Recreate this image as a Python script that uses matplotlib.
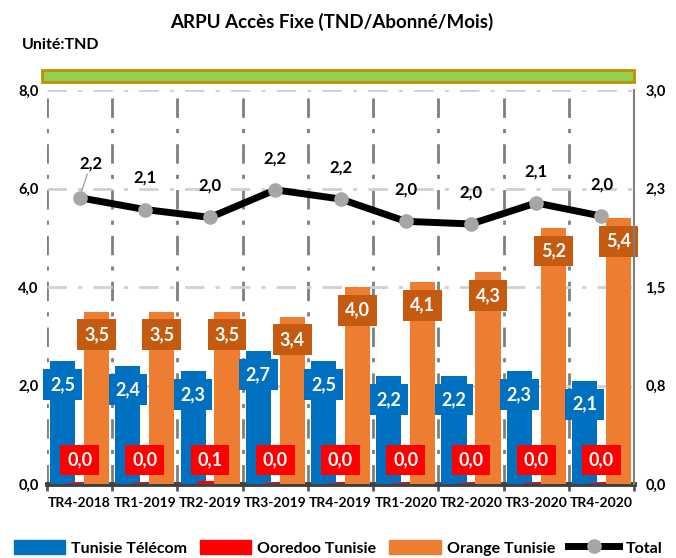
import numpy as np
import matplotlib.pyplot as plt
from matplotlib.patches import Rectangle
from matplotlib.lines import Line2D

plt.rcParams['font.family'] = ['Lato', 'DejaVu Sans']
plt.rcParams['font.weight'] = 'bold'

# donnees
trimestres = ['TR4-2018', 'TR1-2019', 'TR2-2019', 'TR3-2019', 'TR4-2019',
              'TR1-2020', 'TR2-2020', 'TR3-2020', 'TR4-2020']
tt = [2.5, 2.4, 2.3, 2.7, 2.5, 2.2, 2.2, 2.3, 2.1]
ooredoo = [0.02, 0.02, 0.06, 0.02, 0.02, 0.02, 0.02, 0.02, 0.02]
orange = [3.5, 3.5, 3.5, 3.4, 4.0, 4.1, 4.3, 5.2, 5.4]
total = [2.18, 2.09, 2.03, 2.24, 2.17, 2.0, 1.98, 2.14, 2.04]

bleu = '#0070C0'
rouge = '#FF0000'
oran = '#ED7D31'
oran_fonce = '#C55A11'
dash = (0, (7, 4, 1.5, 4))

def fmt(v):
    return ('%.1f' % v).replace('.', ',')

fig = plt.figure(figsize=(6.76, 5.58), dpi=100)
ax = fig.add_axes([0.0695, 0.1326, 0.8685, 0.7061])
ax2 = ax.twinx()

x = np.arange(len(trimestres))
w = 0.385
ax.bar(x - 0.26, tt, w, color=bleu, zorder=3)
ax.bar(x, ooredoo, w, color=rouge, zorder=3)
ax.bar(x + 0.26, orange, w, color=oran, zorder=3)

box = dict(boxstyle='square,pad=0.38', lw=0)
for i in range(len(x)):
    ax.text(x[i] - 0.26, tt[i] - 0.48, fmt(tt[i]), ha='center', va='center',
            color='white', fontsize=13, fontweight='bold', zorder=5, bbox=dict(box, fc=bleu))
    ax.text(x[i], 0.49, fmt(ooredoo[i]), ha='center', va='center',
            color='white', fontsize=13, fontweight='bold', zorder=5, bbox=dict(box, fc=rouge))
    ax.text(x[i] + 0.26, orange[i] - 0.47, fmt(orange[i]), ha='center', va='center',
            color='white', fontsize=13, fontweight='bold', zorder=5, bbox=dict(box, fc=oran_fonce))

ax.set_xlim(-0.5, len(x) - 0.5)
ax.set_ylim(0, 8)
ax.set_yticks([0, 2, 4, 6, 8])
ax.set_yticklabels([fmt(v) for v in [0, 2, 4, 6, 8]], fontweight='bold')
ax.set_xticks(x)
ax.set_xticklabels(trimestres, fontweight='bold')
ax.set_xticks(np.arange(-0.5, len(x), 1), minor=True)
ax.tick_params(axis='x', which='major', length=0, labelsize=10, pad=9)
ax.tick_params(axis='x', which='minor', length=5, width=2, color='#595959', direction='out')
ax.tick_params(axis='y', length=0, labelsize=10.5, pad=6)

# grille
ax.yaxis.grid(True, color='#D0D0D0', linestyle=dash, lw=2, zorder=0)
for b in np.arange(-0.5, len(x) - 0.4, 1):
    ax.axvline(b, color='#7F7F7F', linestyle=dash, lw=2, zorder=1)
for s in ['top', 'left', 'right']:
    ax.spines[s].set_visible(False)
ax2.spines['top'].set_visible(False)
ax2.spines['left'].set_visible(False)
ax2.spines['bottom'].set_visible(False)
ax2.spines['right'].set_color('#7F7F7F')
ax2.spines['right'].set_linewidth(1.5)
ax.spines['bottom'].set_color('#404040')
ax.spines['bottom'].set_linewidth(3.5)

ax2.plot(x, total, color='black', lw=5, marker='o', ms=9.5, mfc='#A6A6A6',
         mec='#A6A6A6', zorder=4)
for i in range(len(x)):
    if i == 0:
        ax2.annotate(fmt(total[i]), (x[i], total[i]), xytext=(8, 19),
                     textcoords='offset points', ha='center', va='bottom',
                     fontsize=12, fontweight='bold', color='black',
                     arrowprops=dict(arrowstyle='-', color='#A6A6A6', lw=1,
                                     shrinkA=0, shrinkB=5))
    else:
        ax2.annotate(fmt(total[i]), (x[i], total[i]), xytext=(0, 17),
                     textcoords='offset points', ha='center', va='bottom',
                     fontsize=12, fontweight='bold', color='black')
ax2.set_ylim(0, 3)
ax2.set_yticks([0, 0.75, 1.5, 2.25, 3])
ax2.set_yticklabels([fmt(v + 1e-9) for v in [0, 0.75, 1.5, 2.25, 3]], fontweight='bold')
ax2.tick_params(axis='y', length=0, labelsize=10.5, pad=8)

# bandeau vert
fig.patches.append(Rectangle((42 / 676, 1 - 82 / 558), 592 / 676, 12 / 558,
                             transform=fig.transFigure, fc='#92D050',
                             ec='#BF9000', lw=2))

fig.text(0.49, 0.96, 'ARPU Accès Fixe (TND/Abonné/Mois)', ha='center',
         va='center', fontsize=13.5, fontweight='bold')
fig.text(0.032, 0.919, 'Unité:TND', ha='left', va='center', fontsize=11.5,
         fontweight='bold')

handles = [Rectangle((0, 0), 1, 1, color=bleu),
           Rectangle((0, 0), 1, 1, color=rouge),
           Rectangle((0, 0), 1, 1, color=oran),
           Line2D([], [], color='black', lw=5, marker='o', ms=9.5,
                  mfc='#A6A6A6', mec='#A6A6A6')]
fig.legend(handles, ['Tunisie Télécom', 'Ooredoo Tunisie', 'Orange Tunisie', 'Total'],
           loc='center', bbox_to_anchor=(0.5, 0.018), ncol=4, frameon=False,
           prop=dict(size=11.5, weight='bold'), handlelength=3.2, handleheight=0.9,
           columnspacing=0.8, handletextpad=0.4, borderpad=0)

plt.savefig('out.png', dpi=100)
